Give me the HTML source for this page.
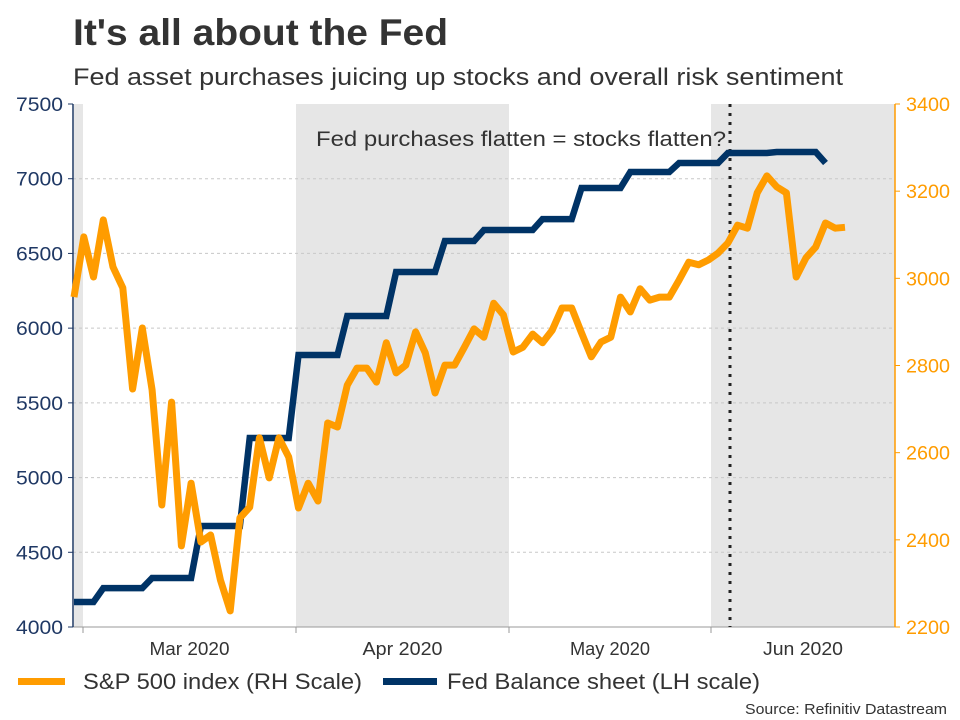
<!DOCTYPE html>
<html><head><meta charset="utf-8"><style>
body{margin:0;background:#fff;font-family:"Liberation Sans",sans-serif}
svg{display:block}
</style></head><body>
<svg width="960" height="720" xmlns="http://www.w3.org/2000/svg" font-family="Liberation Sans, sans-serif">
<text x="73" y="45" font-size="37" font-weight="bold" fill="#333" textLength="375" lengthAdjust="spacingAndGlyphs">It's all about the Fed</text>
<text x="73" y="85" font-size="24" fill="#333" textLength="770" lengthAdjust="spacingAndGlyphs">Fed asset purchases juicing up stocks and overall risk sentiment</text>
<g id="bands">
<rect x="74" y="104" width="9" height="523" fill="#e6e6e6"/>
<rect x="296" y="104" width="213" height="523" fill="#e6e6e6"/>
<rect x="711" y="104" width="184" height="523" fill="#e6e6e6"/>
</g>
<g id="grid"></g>
<g id="axes"></g>
<line x1="730" y1="104" x2="730" y2="627" stroke="#222" stroke-width="3" stroke-dasharray="3,6"/>
<text x="316" y="146" font-size="21" fill="#333" textLength="410" lengthAdjust="spacingAndGlyphs">Fed purchases flatten = stocks flatten?</text>
<g id="series"></g>
<rect x="18" y="678" width="47" height="7" fill="#ff9c00"/>
<text x="83" y="689" font-size="22" fill="#333" textLength="279" lengthAdjust="spacingAndGlyphs">S&amp;P 500 index (RH Scale)</text>
<rect x="383" y="678" width="54" height="7" fill="#003366"/>
<text x="447" y="689" font-size="22" fill="#333" textLength="313" lengthAdjust="spacingAndGlyphs">Fed Balance sheet (LH scale)</text>
<text x="745" y="714" font-size="15" fill="#333" textLength="202" lengthAdjust="spacingAndGlyphs">Source: Refinitiv Datastream</text>
</svg>
<script>
const leftTicks=[4000,4500,5000,5500,6000,6500,7000,7500];
const rightTicks=[2200,2400,2600,2800,3000,3200,3400];
const monthLabels=["Mar 2020","Apr 2020","May 2020","Jun 2020"];
const spx=[2957,3095,3003,3134,3026,2978,2746,2886,2744,2480,2716,2386,2530,2395,2411,2308,2237,2450,2475,2634,2542,2634,2590,2473,2530,2489,2668,2659,2755,2794,2794,2762,2852,2783,2801,2877,2829,2737,2801,2801,2842,2884,2865,2943,2916,2831,2842,2872,2852,2881,2932,2932,2875,2820,2854,2865,2957,2923,2976,2950,2957,2957,2996,3037,3031,3042,3058,3081,3122,3115,3196,3235,3210,3196,3003,3047,3072,3127,3115,3117];
const fedStartIdx=[0,3,8,13,18,23,28,33,38,42,48,52,57,62,67,72,77];
const fedValues=[4167,4260,4328,4676,5265,5820,6081,6376,6583,6657,6730,6938,7045,7105,7172,7179,7105];
const X0=74,X1=845,TOP=104,BOT=627,LEFT=73,RIGHT=895;
const xs=i=>X0+i*(X1-X0)/(spx.length-1);
const yL=v=>BOT-(v-4000)/3500*(BOT-TOP);
const yR=v=>BOT-(v-2200)/1200*(BOT-TOP);
const NS="http://www.w3.org/2000/svg";
function mk(t,a,p){const e=document.createElementNS(NS,t);for(const k in a)e.setAttribute(k,a[k]);p.appendChild(e);return e;}
const grid=document.getElementById('grid'),axes=document.getElementById('axes'),ser=document.getElementById('series');
leftTicks.forEach(v=>{
 if(v>4000&&v<7500){const g=mk('line',{x1:LEFT,x2:RIGHT,y1:yL(v),y2:yL(v),stroke:'#c8c8c8','stroke-dasharray':'3,3'},grid);
 
 }
 const tk=mk('line',{x1:LEFT-5,x2:LEFT,y1:yL(v),y2:yL(v),stroke:'#1f3864'},axes);
 
 
 const t=mk('text',{x:LEFT-10,y:yL(v)+7,'font-size':19,fill:'#1f3864','text-anchor':'end',textLength:47,lengthAdjust:'spacingAndGlyphs'},axes);t.textContent=v;
 
 
});
rightTicks.forEach(v=>{
 const tk=mk('line',{x1:RIGHT,x2:RIGHT+5,y1:yR(v),y2:yR(v),stroke:'#ff9c00'},axes);
 
 
 const t=mk('text',{x:RIGHT+11,y:yR(v)+7,'font-size':19,fill:'#ff9c00',textLength:44,lengthAdjust:'spacingAndGlyphs'},axes);t.textContent=v;
 
 
});
const monthTicks=[83,296,509,711,895];
const ba=mk('line',{x1:LEFT,x2:RIGHT,y1:BOT,y2:BOT,stroke:'#999'},axes);


monthTicks.slice(0,4).forEach((x,i)=>{
 const tk=mk('line',{x1:x,x2:x,y1:BOT,y2:BOT+6,stroke:'#999'},axes);
 
 
 const t=mk('text',{x:(x+monthTicks[i+1])/2,y:655,'font-size':18,fill:'#333','text-anchor':'middle',textLength:80,lengthAdjust:'spacingAndGlyphs'},axes);t.textContent=monthLabels[i];
 
 
});
const la=mk('line',{x1:LEFT,x2:LEFT,y1:TOP,y2:BOT,stroke:'#1f3864','stroke-width':1.5},axes);


const ra=mk('line',{x1:RIGHT,x2:RIGHT,y1:TOP,y2:BOT,stroke:'#ff9c00','stroke-width':1.5},axes);


let fp=[];
for(let w=0;w<fedValues.length;w++){
 const end=w+1<fedValues.length?fedStartIdx[w+1]-1:fedStartIdx[w];
 for(let i=fedStartIdx[w];i<=end;i++)fp.push(xs(i).toFixed(1)+','+yL(fedValues[w]).toFixed(1));
}
const fl=mk('polyline',{points:fp.join(' '),fill:'none',stroke:'#003366','stroke-width':6.5,'stroke-linejoin':'miter'},ser);


const sp=mk('polyline',{points:spx.map((v,i)=>xs(i).toFixed(1)+','+yR(v).toFixed(1)).join(' '),fill:'none',stroke:'#ff9c00','stroke-width':7,'stroke-linejoin':'round'},ser);


</script>
</body></html>
